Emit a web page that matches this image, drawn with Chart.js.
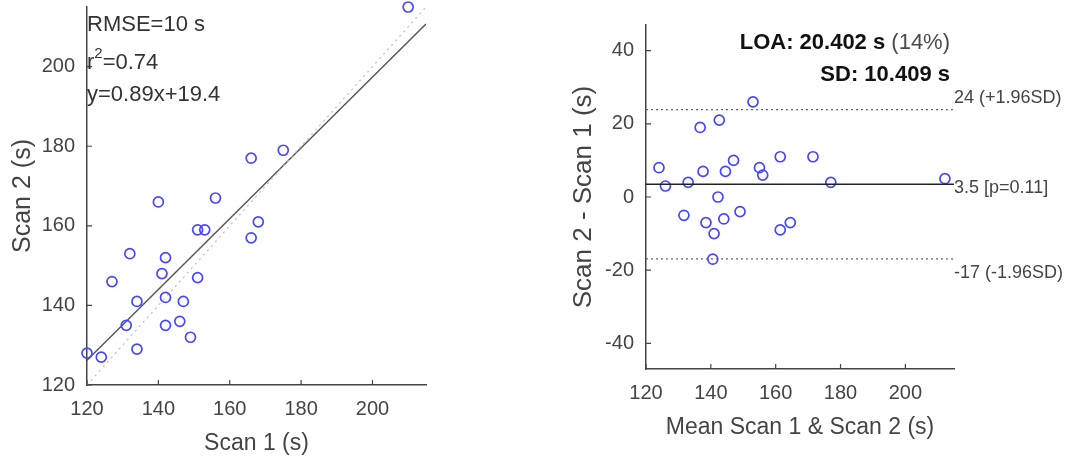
<!DOCTYPE html>
<html>
<head>
<meta charset="utf-8">
<script src="https://cdn.jsdelivr.net/npm/chart.js@4.4.1/dist/chart.umd.min.js"></script>
<style>
  html, body { margin: 0; padding: 0; background: #fff; }
  body { width: 1067px; height: 462px; position: relative; overflow: hidden; }
  #scatterChart { position: absolute; left: 0; top: 0; }
  #blandChart { position: absolute; left: 560px; top: 0; }
</style>
</head>
<body>
<canvas id="scatterChart" width="440" height="462"></canvas>
<canvas id="blandChart" width="507" height="462"></canvas>
<script>
// Scan 1 vs Scan 2 (s)
const scan1 = [210, 175, 166, 156, 140, 168, 151, 153, 166, 132, 142, 127, 141, 151, 134, 142, 147, 131, 142, 146, 149, 134, 120, 124];
const scan2 = [215, 179, 177, 167, 166, 161, 159, 159, 157, 153, 152, 146, 148, 147, 141, 142, 141, 135, 135, 136, 132, 129, 128, 127];

// Bland-Altman: mean of both scans vs difference
const meanScan = [124, 126, 133, 137.6, 136.7, 142.6, 144.5, 147, 153, 155, 156, 161.4, 171.5, 177, 212.2, 142.2, 131.7, 138.5, 144, 149, 141, 161.4, 164.5, 140.6];
const diffScan = [8, 3, 4, 7, 19, 21, 7, 10, 26, 8, 6, 11, 11, 4, 5, 0, -5, -7, -6, -4, -10, -9, -7, -17];

const fitSlope = 0.89;
const fitIntercept = 19.4;
const meanDiff = 3.5;
const upperLoa = 23.9;
const lowerLoa = -16.9;

const scanTicks = [120, 140, 160, 180, 200];
const diffTicks = [-40, -20, 0, 20, 40];
const loaLabels = ['24 (+1.96SD)', '3.5 [p=0.11]', '-17 (-1.96SD)'];

const FONT = '"Liberation Sans", Arial, Helvetica, sans-serif';
Chart.defaults.font.family = FONT;
Chart.defaults.color = '#444';

const dotColor = 'rgb(70,70,255)';

// MATLAB style tick marks pointing into the plot
const inwardTicks = {
  id: 'inwardTicks',
  afterDraw(chart) {
    const { ctx, chartArea: a, scales: { x, y } } = chart;
    ctx.save();
    ctx.strokeStyle = '#444';
    ctx.lineWidth = 1.2;
    ctx.beginPath();
    x.ticks.forEach(t => {
      const px = x.getPixelForValue(t.value);
      ctx.moveTo(px, a.bottom);
      ctx.lineTo(px, a.bottom - 5);
    });
    y.ticks.forEach(t => {
      const py = y.getPixelForValue(t.value);
      ctx.moveTo(a.left, py);
      ctx.lineTo(a.left + 5, py);
    });
    ctx.stroke();
    ctx.restore();
  }
};

function axis(ticks, min, max, title, size, titleSize, titlePad) {
  return {
    type: 'linear',
    min: min,
    max: max,
    afterBuildTicks: s => { s.ticks = ticks.map(v => ({ value: v })); },
    afterFit: s => {
      if (s.isHorizontal()) s.height = size; else s.width = size;
      s.paddingTop = 0; s.paddingBottom = 0; s.paddingLeft = 0; s.paddingRight = 0;
    },
    grid: { display: false, drawTicks: false },
    border: { color: '#444', width: 1.5 },
    ticks: { color: '#444', font: { size: 20 }, padding: 12, autoSkip: false, maxRotation: 0 },
    title: { display: true, text: title, color: '#444', font: { size: titleSize }, padding: titlePad }
  };
}

// Left: Scan 1 vs Scan 2
const fitText = {
  id: 'fitText',
  afterDraw(chart) {
    const { ctx, chartArea: a } = chart;
    ctx.save();
    ctx.fillStyle = '#333';
    ctx.textBaseline = 'middle';
    ctx.font = '22px ' + FONT;
    ctx.fillText('RMSE=10 s', a.left, a.top + 18);
    ctx.fillText('r', a.left, a.top + 56);
    const rw = ctx.measureText('r').width;
    ctx.font = '15px ' + FONT;
    ctx.fillText('2', a.left + rw, a.top + 47);
    const sw = ctx.measureText('2').width;
    ctx.font = '22px ' + FONT;
    ctx.fillText('=0.74', a.left + rw + sw, a.top + 56);
    ctx.fillText('y=0.89x+19.4', a.left, a.top + 88);
    ctx.restore();
  }
};

const xMin = 120, xMax = 215;
new Chart(document.getElementById('scatterChart'), {
  type: 'scatter',
  data: {
    datasets: [{
      data: scan1.map((v, i) => ({ x: v, y: scan2[i] })),
      pointRadius: 5,
      pointBorderWidth: 1.7,
      pointBorderColor: dotColor,
      pointBackgroundColor: 'rgba(0,0,0,0)',
      clip: false
    }, {
      data: [{ x: xMin, y: xMin }, { x: xMax, y: xMax }],
      showLine: true,
      borderColor: '#bdbdbd',
      borderWidth: 1.2,
      borderDash: [2, 4],
      pointRadius: 0
    }, {
      data: [{ x: xMin, y: fitSlope * xMin + fitIntercept }, { x: xMax, y: fitSlope * xMax + fitIntercept }],
      showLine: true,
      borderColor: '#555',
      borderWidth: 1.5,
      pointRadius: 0
    }]
  },
  options: {
    responsive: false,
    animation: false,
    layout: { padding: { top: 7, right: 14, left: 0, bottom: 0 } },
    plugins: { legend: { display: false }, tooltip: { enabled: false } },
    scales: {
      x: axis(scanTicks, xMin, xMax, 'Scan 1 (s)', 77, 23, { top: 0, bottom: 5 }),
      y: axis(scanTicks, 120, 215, 'Scan 2 (s)', 87, 25, { top: 8, bottom: 0 })
    }
  },
  plugins: [inwardTicks, fitText]
});

// Right: Bland-Altman
const loaText = {
  id: 'loaText',
  afterDraw(chart) {
    const { ctx, chartArea: a, scales: { y } } = chart;
    ctx.save();
    ctx.textBaseline = 'middle';
    const endX = a.right - 4;
    ctx.font = '22px ' + FONT;
    const pct = ' (14%)';
    const pw = ctx.measureText(pct).width;
    ctx.fillStyle = '#4a4a4a';
    ctx.fillText(pct, endX - pw, a.top + 18);
    ctx.font = 'bold 22px ' + FONT;
    ctx.fillStyle = '#111';
    const lw = ctx.measureText('LOA: 20.402 s').width;
    ctx.fillText('LOA: 20.402 s', endX - pw - lw, a.top + 18);
    const sd = 'SD: 10.409 s';
    ctx.fillText(sd, endX - ctx.measureText(sd).width, a.top + 50);

    ctx.font = '18px ' + FONT;
    ctx.fillStyle = '#444';
    ctx.fillText(loaLabels[0], a.right, y.getPixelForValue(upperLoa) - 12);
    ctx.fillText(loaLabels[1], a.right, y.getPixelForValue(meanDiff) + 4);
    ctx.fillText(loaLabels[2], a.right, y.getPixelForValue(lowerLoa) + 14);
    ctx.restore();
  }
};

function hline(v, color, width, dash) {
  return {
    data: [{ x: xMin, y: v }, { x: xMax, y: v }],
    showLine: true,
    borderColor: color,
    borderWidth: width,
    borderDash: dash,
    pointRadius: 0
  };
}

new Chart(document.getElementById('blandChart'), {
  type: 'scatter',
  data: {
    datasets: [
      hline(upperLoa, '#666', 1.2, [2, 3]),
      hline(lowerLoa, '#666', 1.2, [2, 3]),
      hline(meanDiff, '#222', 1.5, []),
      {
        data: meanScan.map((v, i) => ({ x: v, y: diffScan[i] })),
        pointRadius: 5,
        pointBorderWidth: 1.7,
        pointBorderColor: dotColor,
        pointBackgroundColor: 'rgba(0,0,0,0)',
        clip: false
      }
    ]
  },
  options: {
    responsive: false,
    animation: false,
    layout: { padding: { top: 25, right: 113, left: 0, bottom: 0 } },
    plugins: { legend: { display: false }, tooltip: { enabled: false } },
    scales: {
      x: axis(scanTicks, xMin, xMax, 'Mean Scan 1 & Scan 2 (s)', 93, 23, { top: 0, bottom: 21 }),
      y: axis(diffTicks, -47, 47, 'Scan 2 - Scan 1 (s)', 86, 26, { top: 8, bottom: 0 })
    }
  },
  plugins: [inwardTicks, loaText]
});
</script>
</body>
</html>
